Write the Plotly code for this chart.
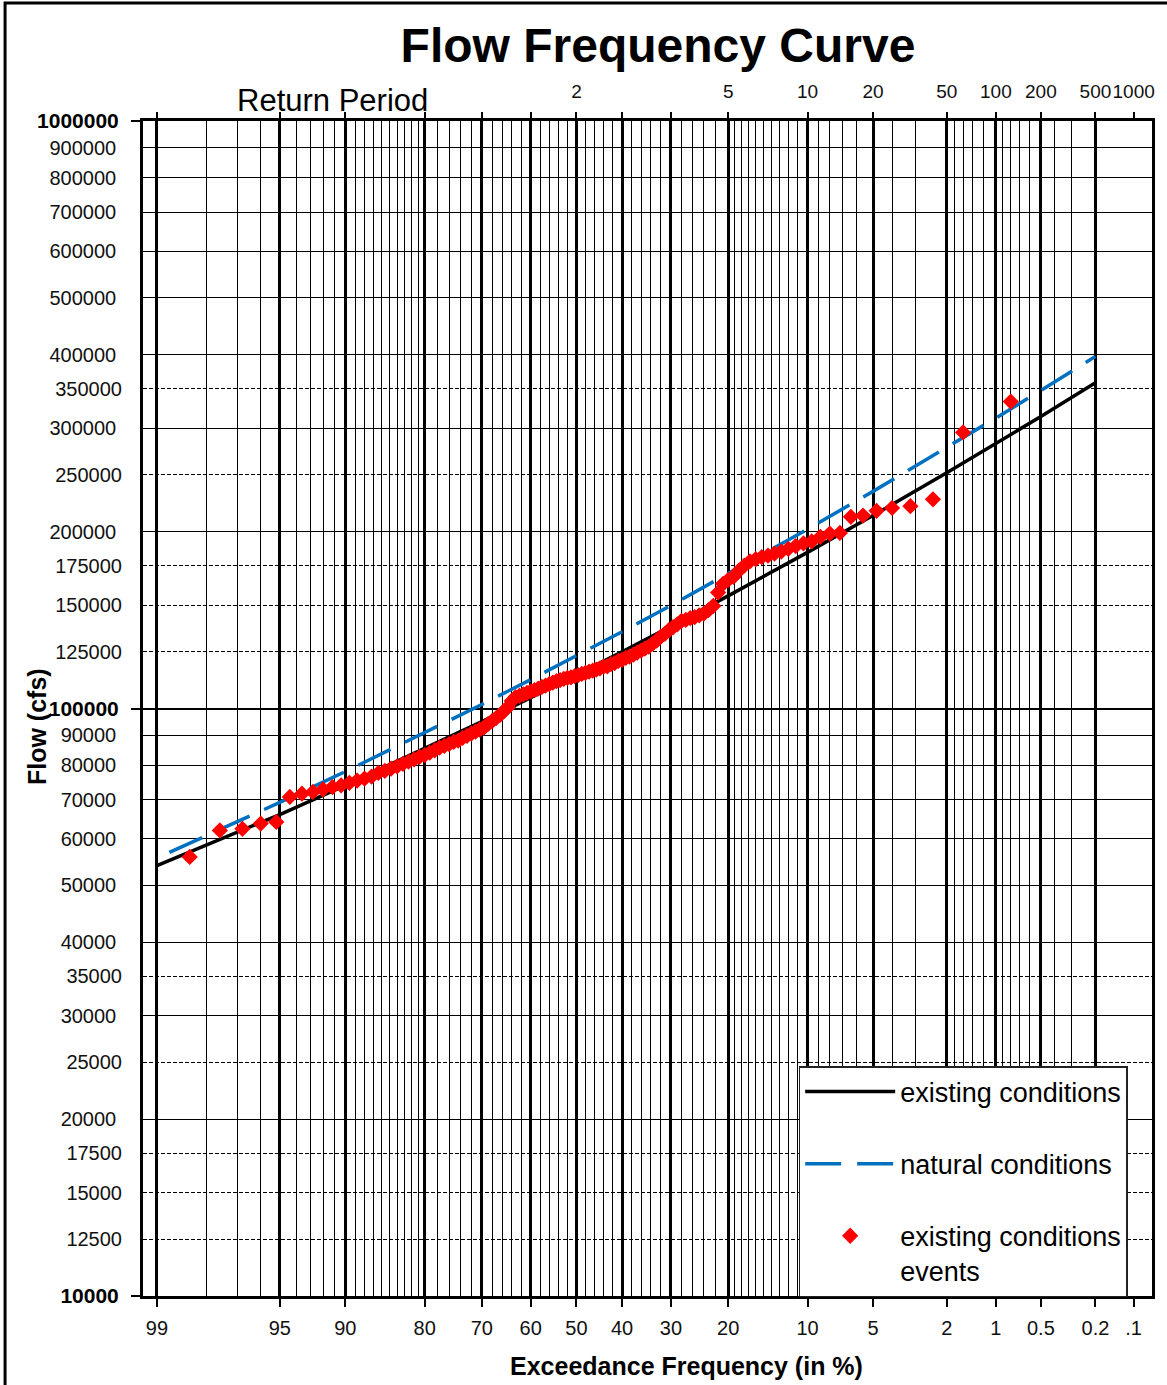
import plotly.graph_objects as go
from statistics import NormalDist

# ---------------- data ----------------
# x axis: exceedance frequency (%) on normal probability paper
major_freq = [99, 95, 90, 80, 70, 60, 50, 40, 30, 20, 10, 5, 2, 1, 0.5, 0.2, 0.1]
major_labels = ["99", "95", "90", "80", "70", "60", "50", "40", "30", "20",
                "10", "5", "2", "1", "0.5", "0.2", ".1"]
return_labels = ["", "", "", "", "", "", "2", "", "", "5",
                 "10", "20", "50", "100", "200", "500", "1000"]
minor_freq = [98, 97, 96, 94, 93, 92, 91, 89, 88, 87, 86, 85, 84, 83, 82, 81,
              78, 76, 74, 72, 68, 66, 64, 62, 58, 56, 54, 52, 48, 46, 44, 42,
              38, 36, 34, 32, 28, 26, 24, 22, 19, 18, 17, 16, 15, 14, 13, 12, 11,
              9, 8, 7, 6, 4, 3, 1.8, 1.6, 1.4, 1.2, 0.9, 0.8, 0.7, 0.6, 0.4, 0.3]

# y axis: flow (cfs), log scale
flow_decades = [10000, 100000, 1000000]
flow_solid = [20000, 30000, 40000, 50000, 60000, 70000, 80000, 90000,
              200000, 300000, 400000, 500000, 600000, 700000, 800000, 900000]
flow_dashed = [12500, 15000, 17500, 25000, 35000,
               125000, 150000, 175000, 250000, 350000]

# frequency curves
existing_freq = [99, 95, 90, 80, 70, 60, 50, 40, 30, 20, 10, 5, 2, 1, 0.5, 0.2]
existing_flow = [54000, 66000, 74000, 85400, 95000, 104300, 114000, 124900,
                 138000, 155500, 184400, 213000, 252000, 282500, 314000, 358500]

natural_freq = [98.8, 95, 90, 80, 70, 60, 50, 40, 30, 20, 10, 5, 2, 1, 0.5, 0.2]
natural_flow = [56900, 69200, 78100, 90800, 101600, 112000, 122900, 135100,
                149800, 169500, 201900, 234200, 277900, 312200, 347800, 397500]

# ranked annual peak events (largest first); plotted with Weibull positions
record_years = 124
events_flow = [333000, 295000, 227000, 221000, 219500, 217000, 213000, 212000, 199000, 198500,
               196000, 192500, 191000, 189000, 187000, 185000, 183500, 182000, 181000, 179500,
               178000, 175000, 171500, 167500, 165500, 163000, 157500, 149500, 147000, 145000,
               144000, 143000, 142500, 141500, 141000, 139000, 137500, 136000, 134000, 132500,
               130500, 129000, 127500, 126500, 125500, 124500, 123500, 122500, 122000, 121000,
               120500, 119500, 119000, 118000, 117800, 117000, 116500, 116000, 115500, 115000,
               114500, 114000, 113500, 113000, 112800, 112300, 111800, 111300, 110700, 110000,
               109400, 108800, 108100, 107500, 106900, 106300, 105700, 105100, 104600, 103000,
               100500, 99000, 97500, 96300, 95200, 94100, 92800, 92100, 91300, 90600,
               89800, 89100, 88200, 87700, 87000, 86400, 85800, 84900, 84100, 83300,
               82700, 81900, 81200, 80500, 79700, 79000, 78300, 77700, 76600, 76000,
               75400, 74700, 74000, 73500, 72800, 72100, 71600, 70700, 64100, 63700,
               62400, 62000, 55900]

# ---------------- helpers ----------------
ND = NormalDist()


def zpos(p):
    """exceedance frequency in % -> standard normal deviate (probability scale)"""
    return ND.inv_cdf(1.0 - p / 100.0)


events_freq = [100.0 * i / (record_years + 1) for i in range(1, len(events_flow) + 1)]

FONT = "Liberation Sans, Arial, sans-serif"
XR = [-2.4035, 3.192]
YR = [4, 6]

W, H = 1167, 1385
PL, PR, PT, PB = 143, 1152.5, 121, 1296      # plot area in pixels
PW, PH = PR - PL, PB - PT


def px(xr):
    return (xr - PL) / PW


def py(yr):
    return (PB - yr) / PH


fig = go.Figure()

fig.add_trace(go.Scatter(
    x=[zpos(p) for p in existing_freq], y=existing_flow, mode="lines",
    name="existing conditions", legendgroup="a",
    line=dict(color="black", width=3.5)))

fig.add_trace(go.Scatter(
    x=[zpos(p) for p in natural_freq], y=natural_flow, mode="lines",
    name="natural conditions", legendgroup="b",
    line=dict(color="#0070C0", width=3.5, dash="36px,16px")))

fig.add_trace(go.Scatter(
    x=[zpos(p) for p in events_freq], y=events_flow, mode="markers",
    name="existing conditions<br>events", legendgroup="c",
    marker=dict(symbol="diamond", color="#FF0000", size=12.5, line=dict(width=0))))

# empty traces to attach the overlay axes
for xa, ya in [("x2", "y"), ("x3", "y"), ("x", "y2"), ("x", "y3")]:
    fig.add_trace(go.Scatter(x=[], y=[], xaxis=xa, yaxis=ya, showlegend=False,
                             hoverinfo="skip"))

tick_font = dict(family=FONT, size=20, color="#111111")

fig.update_layout(
    width=W, height=H,
    margin=dict(l=PL, r=W - PR, t=PT, b=H - PB),
    paper_bgcolor="white", plot_bgcolor="white",
    font=dict(family=FONT, color="black"),
    title=dict(text="<b>Flow Frequency Curve</b>", x=658 / W, xanchor="center",
               y=1 - 45 / H, yanchor="middle", yref="container",
               font=dict(family=FONT, size=48, color="black")),
    showlegend=True,
    legend=dict(x=px(799), y=py(1066),
                xanchor="left", yanchor="top",
                bgcolor="white", bordercolor="#222222", borderwidth=1.5,
                font=dict(family=FONT, size=27, color="black"),
                tracegroupgap=34, itemwidth=90, valign="top",
                traceorder="grouped"),
    xaxis=dict(
        range=XR, showgrid=False, zeroline=False,
        tickvals=[zpos(p) for p in major_freq], ticktext=major_labels,
        ticks="outside", ticklen=8, tickwidth=2, tickcolor="black", tickangle=0,
        ticklabelstandoff=4, tickfont=tick_font,
        showline=True, linecolor="black", linewidth=2.5, mirror=True),
    xaxis2=dict(
        range=XR, overlaying="x", side="top", anchor="y",
        showgrid=False, zeroline=False,
        tickvals=[zpos(p) for p in major_freq], ticktext=return_labels,
        ticks="outside", ticklen=8, tickwidth=2, tickcolor="black", tickangle=0,
        ticklabelstandoff=6, tickfont=dict(family=FONT, size=19, color="#111111"),
        showline=False),
    xaxis3=dict(
        range=XR, overlaying="x", side="bottom", anchor="y",
        showticklabels=False, ticks="", zeroline=False, showline=False,
        tickvals=[zpos(p) for p in major_freq[:-1]],
        showgrid=True, gridcolor="black", gridwidth=2.6,
        minor=dict(tickvals=[zpos(p) for p in minor_freq], showgrid=True,
                   gridcolor="black", gridwidth=1.1, ticks="")),
    yaxis=dict(
        type="log", range=YR, zeroline=False,
        tickvals=flow_solid, ticktext=[str(v) for v in flow_solid],
        ticks="", showgrid=True, gridcolor="black", gridwidth=1.2,
        ticklabelstandoff=20, tickfont=tick_font,
        showline=True, linecolor="black", linewidth=2.5, mirror=True),
    yaxis2=dict(
        type="log", range=YR, overlaying="y", side="left", anchor="x",
        zeroline=False, showline=False,
        tickvals=flow_dashed, ticktext=[str(v) for v in flow_dashed],
        ticks="", showgrid=True, gridcolor="black", gridwidth=1, griddash="4px,2px",
        ticklabelstandoff=20, tickfont=tick_font),
    yaxis3=dict(
        type="log", range=YR, overlaying="y", side="left", anchor="x",
        zeroline=False, showline=False,
        tickvals=flow_decades, ticktext=["<b>%d</b>" % v for v in flow_decades],
        ticks="outside", ticklen=11, tickwidth=2, tickcolor="black",
        showgrid=True, gridcolor="black", gridwidth=2.4,
        ticklabelstandoff=8, tickfont=dict(family=FONT, size=21, color="black")),
    annotations=[
        dict(text="Return Period", xref="paper", yref="paper",
             x=px(333), y=py(100),
             xanchor="center", yanchor="middle", showarrow=False,
             font=dict(family=FONT, size=31, color="black")),
        dict(text="<b>Exceedance Frequency (in %)</b>", xref="paper", yref="paper",
             x=px(687), y=py(1366),
             xanchor="center", yanchor="middle", showarrow=False,
             font=dict(family=FONT, size=25, color="black")),
        dict(text="<b>Flow (cfs)</b>", xref="paper", yref="paper",
             x=px(37), y=py(727), textangle=-90,
             xanchor="center", yanchor="middle", showarrow=False,
             font=dict(family=FONT, size=25, color="black")),
    ],
    shapes=[
        dict(type="rect", xref="paper", yref="paper",
             x0=px(5), x1=px(1190), y0=py(1410), y1=py(3),
             line=dict(color="black", width=3), fillcolor="rgba(0,0,0,0)",
             layer="below"),
    ],
)

# remove the browser's default 8px body margin so the figure sits at (0, 0)
fig.write_html("out.html",
               config={"displayModeBar": False},
               post_script="document.body.style.margin='0';"
                           "document.body.style.overflow='hidden';")
